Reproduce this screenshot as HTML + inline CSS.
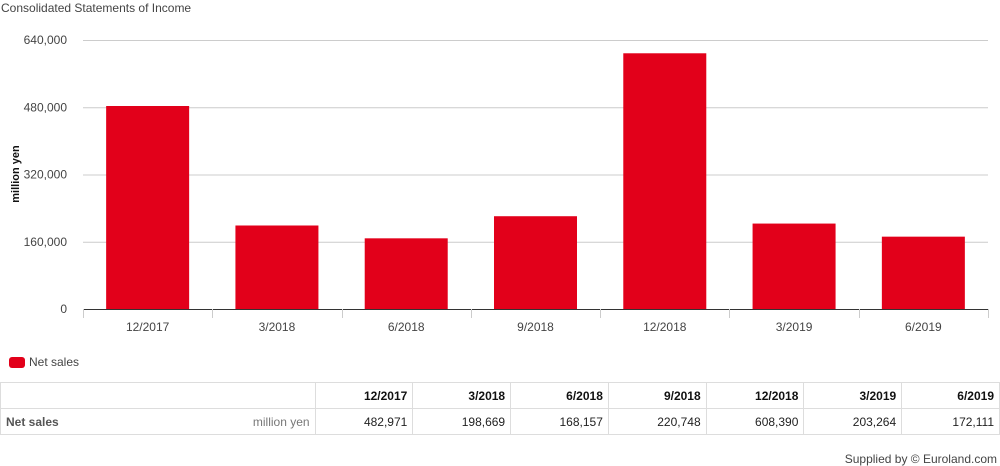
<!DOCTYPE html>
<html><head><meta charset="utf-8"><style>
body{margin:0;width:1000px;height:466px;background:#fff;font-family:"Liberation Sans",Arial,sans-serif;overflow:hidden;position:relative}
#title{position:absolute;left:1px;top:1px;font-size:12px;color:#444}
#legend{position:absolute;left:9px;top:355px;font-size:12px;color:#444;display:flex;align-items:center}
#legend span.sw{width:16px;height:11px;background:#e2001a;border-radius:3px;display:inline-block;margin-right:4px}
table{position:absolute;left:0;top:382px;border-collapse:collapse;font-size:12px;color:#222}
td{border:1px solid #ddd;height:25px;padding:0 5px;text-align:right}
td.h{font-weight:bold;color:#111}
#sup{position:absolute;right:3px;top:452px;font-size:12px;color:#444}
</style></head><body>
<div id="title">Consolidated Statements of Income</div>
<svg id="chart" width="1000" height="345" style="position:absolute;left:0;top:0"></svg>
<div id="legend"><span class="sw"></span>Net sales</div>
<table><tbody id="tb"></tbody></table>
<div id="sup">Supplied by © Euroland.com</div>
<script>
const categories=["12/2017","3/2018","6/2018","9/2018","12/2018","3/2019","6/2019"];
const netSales=[482971,198669,168157,220748,608390,203264,172111];
const yTicks=[0,160000,320000,480000,640000];
const printed=["482,971","198,669","168,157","220,748","608,390","203,264","172,111"];
const NS="http://www.w3.org/2000/svg";
const svg=document.getElementById('chart');
const L=83,R=988,T=40,B=309,max=640000;
const y=v=>B-(v/max)*(B-T);
const cw=(R-L)/categories.length;
const x=i=>L+cw*i;
function mk(t,a){const e=document.createElementNS(NS,t);for(const k in a)e.setAttribute(k,a[k]);svg.appendChild(e);return e;}
yTicks.forEach(v=>{
 const g=mk('line',{x1:L,x2:R,y1:y(v)+.5,y2:y(v)+.5,stroke:v?'#ccc':'#333'});
 
 
 const t=mk('text',{x:67,y:y(v)+4,'text-anchor':'end','font-size':12,fill:'#444'});
 t.textContent=v.toLocaleString('en-US');
 
 
});
const yt=mk('text',{x:0,y:0,transform:'translate(19,174) rotate(-90)','text-anchor':'middle','font-size':11,'font-weight':'bold',fill:'#111'});
yt.textContent='million yen';


for(let i=0;i<=categories.length;i++){
 const tk=mk('line',{x1:Math.round(x(i))+.5,x2:Math.round(x(i))+.5,y1:B,y2:B+9,stroke:'#ccc'});
 
 
}
categories.forEach((c,i)=>{
 const bw=83,cx=x(i)+cw/2;
 const r=mk('rect',{x:cx-bw/2,y:y(netSales[i]),width:bw,height:B-y(netSales[i]),fill:'#e2001a'});
 
 
 const t=mk('text',{x:cx,y:331,'text-anchor':'middle','font-size':12,fill:'#444'});
 t.textContent=c;
 
 
});
const tb=document.getElementById('tb');
let h='<tr><td style="width:305px"></td>'+categories.map(c=>'<td class="h" style="width:87px">'+c+'</td>').join('')+'</tr>';
h+='<tr><td style="text-align:left;color:#555;font-weight:bold"><span style="float:right;color:#777;font-weight:normal">million yen</span>Net sales</td>'+printed.map(p=>'<td>'+p+'</td>').join('')+'</tr>';
tb.innerHTML=h;
</script>
</body></html>
